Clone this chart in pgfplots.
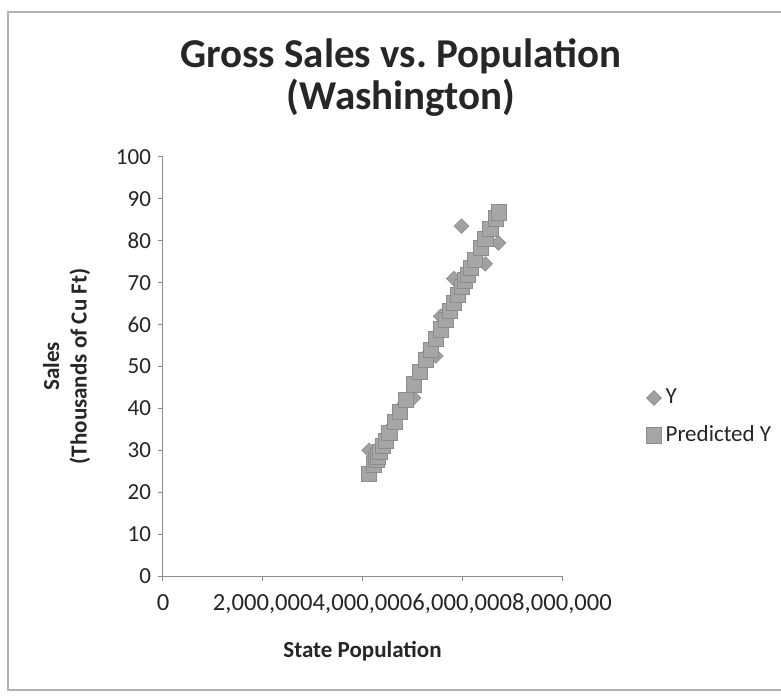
\documentclass[border=0pt]{standalone}
\usepackage{fontspec}
\setmainfont{Carlito}
\usepackage{pgfplots}
\pgfplotsset{compat=1.18}
\usepackage{pgfplotstable}

\pgfplotstableread{
pop y pred
4132000 30.0 24.35
4229000 27.5 26.68
4276000 27.0 27.82
4307000 29.5 28.56
4354000 30.0 29.69
4409000 32.0 31.02
4463000 31.5 32.32
4538000 35.0 34.12
4648000 37.5 36.77
4746000 40.0 39.13
4867000 41.5 42.05
5021000 42.5 45.76
5141000 49.0 48.64
5266000 52.5 51.65
5364000 54.5 54.01
5470000 52.5 56.57
5567000 62.0 58.90
5663000 61.0 61.21
5750000 64.0 63.31
5830000 71.0 65.24
5911000 67.0 67.19
5985000 83.5 68.97
6052000 70.0 70.58
6104000 72.5 71.83
6178000 74.5 73.62
6257000 75.0 75.52
6375000 78.0 78.36
6462000 74.5 80.45
6562000 82.0 82.86
6667000 84.5 85.39
6725000 79.5 86.79
}\datatable

\newcommand\fs{\fontsize{11.5}{13.8}\selectfont}

\begin{document}
\begin{tikzpicture}
\path[use as bounding box] (0pt,0pt) rectangle (390.5pt,348pt);
\fill[white] (0pt,0pt) rectangle (390.5pt,348pt);
\draw[black!30, line width=0.6pt] (390.5pt,342pt) -- (4pt,342pt) -- (4pt,3pt) -- (390.5pt,3pt);
\node[font=\fontsize{20.5}{21}\selectfont\bfseries, align=center, text=black!85] at (200.5pt,309pt) {Gross Sales vs.\ Population\\(Washington)};
\begin{axis}[
  at={(81.5pt,60pt)}, anchor=south west,
  scale only axis, width=199.5pt, height=209.5pt,
  xmin=0, xmax=8000000, ymin=0, ymax=100,
  axis lines*=left,
  axis line style={black!45, line width=0.5pt},
  tick style={black!45, line width=0.5pt},
  tick align=outside,
  major tick length=2.5pt,
  xtick={0,2000000,4000000,6000000,8000000},
  ytick={0,10,20,30,40,50,60,70,80,90,100},
  scaled x ticks=false,
  /pgf/number format/assume math mode=true,
  ticklabel style={font=\fs, text=black!85},
  xticklabel style={/pgf/number format/fixed, /pgf/number format/precision=0, /pgf/number format/1000 sep={,}, yshift=-3pt, font=\fontsize{12.3}{14}\selectfont},
  xlabel={State Population},
  ylabel={Sales\\(Thousands of Cu Ft)},
  label style={font=\fs\bfseries, text=black!85, align=center},
  xlabel style={at={(axis description cs:0.5,0)}, anchor=center, yshift=-37.5pt},
  ylabel style={at={(axis description cs:-0.2419,0.5)}, anchor=center},
  legend style={draw=none, fill=none, font=\fs, text=black!85,
    at={(axis description cs:1.1955,0.3795)}, anchor=west, row sep=5.5pt,
    nodes={inner sep=2pt}},
  legend cell align=left,
  legend image code/.code={\draw[#1] plot coordinates {(4pt,0pt)};},
]
\addplot[only marks, mark=square*, mark size=2.6pt,
  mark options={rotate=45, fill=black!37, draw=black!45, line width=0.3pt}]
  table[x=pop, y=y]{\datatable};
\addlegendentry{Y}
\addplot[only marks, mark=square*, mark size=3.8pt,
  mark options={fill=black!35, draw=black!45, line width=0.3pt}]
  table[x=pop, y=pred]{\datatable};
\addlegendentry{Predicted Y}
\end{axis}
\end{tikzpicture}
\end{document}
